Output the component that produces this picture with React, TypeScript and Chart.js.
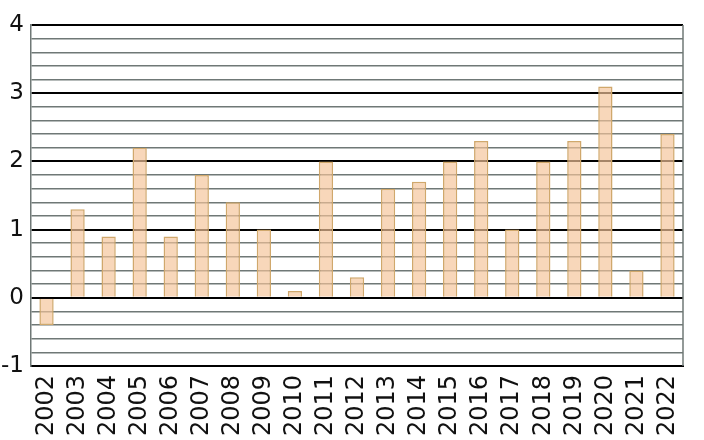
import React, { useEffect, useRef } from "react";
import { Chart, registerables } from "chart.js";

Chart.register(...registerables);

const years = [
  "2002", "2003", "2004", "2005", "2006", "2007", "2008", "2009", "2010", "2011", "2012",
  "2013", "2014", "2015", "2016", "2017", "2018", "2019", "2020", "2021", "2022",
];
const values = [
  -0.4, 1.3, 0.9, 2.2, 0.9, 1.8, 1.4, 1.0, 0.1, 2.0, 0.3,
  1.6, 1.7, 2.0, 2.3, 1.0, 2.0, 2.3, 3.1, 0.4, 2.4,
];
const yMin = -1;
const yMax = 4;
const yStep = 0.2;

const GRAY = "#6f7876";
const BLACK = "#000000";
const FONT = "'DejaVu Sans', Verdana, sans-serif";

const isWhole = (v: number) => Math.abs(v - Math.round(v)) < 1e-6;

// closes the plot frame on the right-hand side
const rightFrame = {
  id: "rightFrame",
  afterDraw(chart: Chart) {
    const { ctx, chartArea } = chart;
    ctx.save();
    ctx.strokeStyle = GRAY;
    ctx.lineWidth = 1.5;
    ctx.beginPath();
    ctx.moveTo(chartArea.right, chartArea.top);
    ctx.lineTo(chartArea.right, chartArea.bottom);
    ctx.stroke();
    ctx.restore();
  },
};

export default function App() {
  const canvasRef = useRef<HTMLCanvasElement | null>(null);

  useEffect(() => {
    if (!canvasRef.current) return;
    const chart = new Chart(canvasRef.current, {
      type: "bar",
      data: {
        labels: years,
        datasets: [
          {
            data: values,
            backgroundColor: "rgba(245, 196, 154, 0.68)",
            borderColor: "#d0a86c",
            borderWidth: 1.5,
            categoryPercentage: 1,
            barPercentage: 0.46,
          },
        ],
      },
      options: {
        responsive: false,
        animation: false,
        layout: { padding: { top: 25, right: 21, left: 0, bottom: 0 } },
        plugins: {
          legend: { display: false },
          tooltip: { enabled: false },
        },
        scales: {
          x: {
            grid: { display: false },
            border: { display: true, color: BLACK, width: 2 },
            ticks: {
              minRotation: 90,
              maxRotation: 90,
              autoSkip: false,
              padding: 1,
              color: "#111",
              font: { family: FONT, size: 24 },
            },
            afterFit(scale: any) {
              scale.height = 74;
            },
          },
          y: {
            min: yMin,
            max: yMax,
            border: { display: true, color: GRAY, width: 1.5 },
            grid: {
              drawTicks: false,
              color: (c: any) => (isWhole(c.tick.value) ? BLACK : GRAY),
              lineWidth: (c: any) => (isWhole(c.tick.value) ? 2 : 1.5),
            },
            ticks: {
              stepSize: yStep,
              autoSkip: false,
              padding: 7,
              color: "#111",
              font: { family: FONT, size: 23 },
              callback: (v: any) => (isWhole(Number(v)) ? String(Math.round(Number(v))) : ""),
            },
            afterFit(scale: any) {
              scale.width = 31;
            },
          },
        },
      },
      plugins: [rightFrame],
    });
    return () => chart.destroy();
  }, []);

  return (
    <div style={{ position: "absolute", left: 0, top: 0, width: 704, height: 440, background: "#fff" }}>
      <canvas ref={canvasRef} width={704} height={440} style={{ display: "block" }} />
    </div>
  );
}
